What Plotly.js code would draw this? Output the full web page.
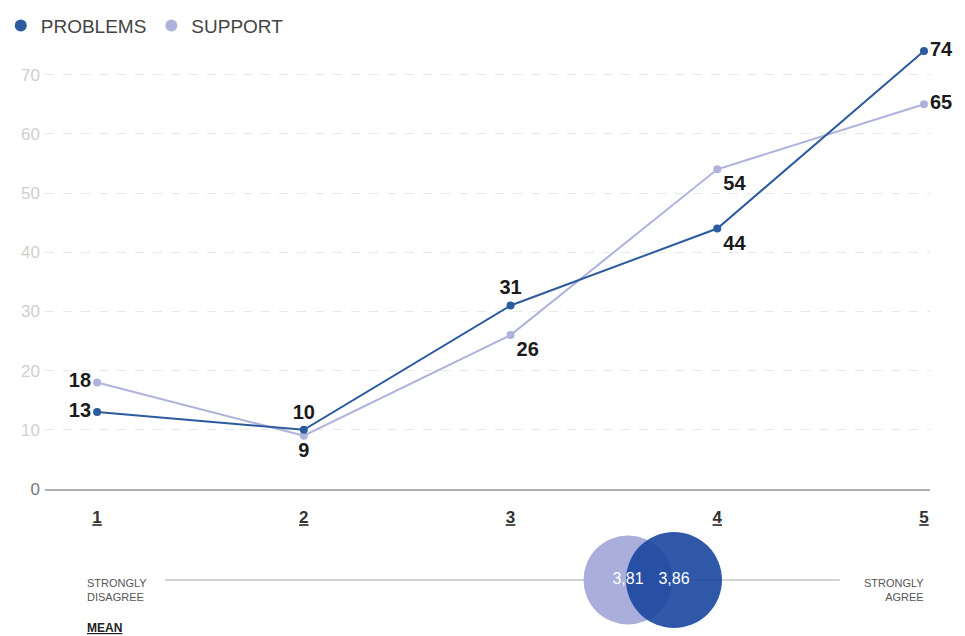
<!DOCTYPE html>
<html>
<head>
<meta charset="utf-8">
<script src="https://cdn.plot.ly/plotly-3.0.1.min.js"></script>
<style>html,body{margin:0;padding:0;background:#fff;}#chart{width:965px;height:636px;}</style>
</head>
<body>
<div id="chart"></div>
<script>
// ---- data ----
const scale = [1, 2, 3, 4, 5];
const scaleLabels = ['1', '2', '3', '4', '5'];
const problems = [13, 10, 31, 44, 74];
const support = [18, 9, 26, 54, 65];
const seriesNames = ['PROBLEMS', 'SUPPORT'];
const meanProblems = 3.86;
const meanSupport = 3.81;
const meanLabels = ['3,81', '3,86'];
const yTicks = [0, 10, 20, 30, 40, 50, 60, 70];
const endLabels = ['STRONGLY<br>DISAGREE', 'STRONGLY<br>AGREE', 'MEAN'];

// ---- styles ----
const cProb = '#2c5b9e';
const cSupp = '#aeb2dc';
const labelFont = {family: 'Liberation Sans, Arial, sans-serif', size: 20, color: '#1b1b1b', weight: 700};
const probPos = ['middle left', 'top center', 'top center', 'bottom right', 'middle right'];
const suppPos = ['middle left', 'bottom center', 'bottom right', 'bottom right', 'middle right'];

const traces = [
  {
    x: scale, y: support, type: 'scatter', mode: 'lines+markers+text',
    name: seriesNames[1], showlegend: false,
    line: {color: cSupp, width: 2}, marker: {color: cSupp, size: 8},
    text: support.map(String), textposition: suppPos, textfont: labelFont,
    cliponaxis: false, hoverinfo: 'x+y'
  },
  {
    x: scale, y: problems, type: 'scatter', mode: 'lines+markers+text',
    name: seriesNames[0], showlegend: false,
    line: {color: cProb, width: 2}, marker: {color: cProb, size: 8},
    text: problems.map(String), textposition: probPos, textfont: labelFont,
    cliponaxis: false, hoverinfo: 'x+y'
  },
  // legend entries
  {x: [null], y: [null], type: 'scatter', mode: 'markers', name: seriesNames[0],
   marker: {color: cProb, size: 12}},
  {x: [null], y: [null], type: 'scatter', mode: 'markers', name: seriesNames[1],
   marker: {color: cSupp, size: 12}},
  // mean circles
  {x: [meanSupport], y: [0], xaxis: 'x2', yaxis: 'y2', type: 'scatter', mode: 'markers',
   marker: {color: '#a9aedb', size: 89}, showlegend: false, cliponaxis: false, hoverinfo: 'x'},
  {x: [meanProblems], y: [0], xaxis: 'x2', yaxis: 'y2', type: 'scatter', mode: 'markers',
   marker: {color: 'rgba(24,70,158,0.9)', size: 96}, showlegend: false, cliponaxis: false, hoverinfo: 'x'},
  {x: [meanSupport, meanProblems], y: [0, 0], xaxis: 'x2', yaxis: 'y2', type: 'scatter', mode: 'text',
   text: meanLabels, textposition: 'middle center',
   textfont: {family: 'Liberation Sans, Arial, sans-serif', size: 16, color: '#ffffff'},
   showlegend: false, cliponaxis: false, hoverinfo: 'skip'}
];

const layout = {
  width: 965, height: 636,
  margin: {l: 45, r: 35, t: 45, b: 0},
  paper_bgcolor: '#ffffff', plot_bgcolor: 'rgba(0,0,0,0)',
  font: {family: 'Liberation Sans, Arial, sans-serif', color: '#444'},
  showlegend: true,
  legend: {orientation: 'h', x: -0.05, xanchor: 'left', y: 1.065, yanchor: 'top',
           font: {size: 19, color: '#444'}, itemwidth: 30, tracegroupgap: 0,
           bgcolor: 'rgba(0,0,0,0)'},
  xaxis: {
    domain: [0, 1], range: [0.748, 5.029], anchor: 'y',
    tickvals: scale, ticktext: scaleLabels.map(s => '<u><b>' + s + '</b></u>'),
    tickfont: {size: 17, color: '#333'}, ticks: '', ticklabelstandoff: 12,
    showgrid: false, zeroline: false, showline: true, linecolor: '#b0b0b0', linewidth: 1.5
  },
  yaxis: {
    domain: [0.2487, 1], range: [0, 75], anchor: 'x',
    tickvals: yTicks,
    ticktext: yTicks.map(v => v === 0 ? '<span style="color:#777">0</span>' : String(v)),
    tickfont: {size: 17, color: '#cfcfcf'}, ticks: '', ticklabelstandoff: 4,
    showgrid: true, gridcolor: '#e8e8e8', griddash: 'dash', gridwidth: 1,
    zeroline: false, showline: false
  },
  xaxis2: {domain: [0, 1], range: [3.1763, 4.1383], anchor: 'y2', visible: false, fixedrange: true},
  yaxis2: {domain: [0, 0.1895], range: [-1, 1], anchor: 'x2', visible: false, fixedrange: true},
  shapes: [
    {type: 'line', xref: 'paper', yref: 'y2', x0: 0.1356, x1: 0.898, y0: 0, y1: 0,
     line: {color: '#c4c4c4', width: 1.5}, layer: 'below'}
  ],
  annotations: [
    {xref: 'paper', yref: 'paper', x: 0.045, xanchor: 'left', y: (636 - 590) / 591, yanchor: 'middle',
     text: endLabels[0], showarrow: false, align: 'left',
     font: {family: 'Liberation Sans Narrow, Liberation Sans, Arial', size: 11, color: '#555'}},
    {xref: 'paper', yref: 'paper', x: 0.9955, xanchor: 'right', y: (636 - 590) / 591, yanchor: 'middle',
     text: endLabels[1], showarrow: false, align: 'right',
     font: {family: 'Liberation Sans Narrow, Liberation Sans, Arial', size: 11, color: '#555'}},
    {xref: 'paper', yref: 'paper', x: 0.045, xanchor: 'left', y: (636 - 628) / 591, yanchor: 'middle',
     text: '<u><b>' + endLabels[2] + '</b></u>', showarrow: false, align: 'left',
     font: {family: 'Liberation Sans Narrow, Liberation Sans, Arial', size: 12, color: '#222'}}
  ]
};

Plotly.newPlot('chart', traces, layout, {displayModeBar: false, responsive: false});
</script>
</body>
</html>
